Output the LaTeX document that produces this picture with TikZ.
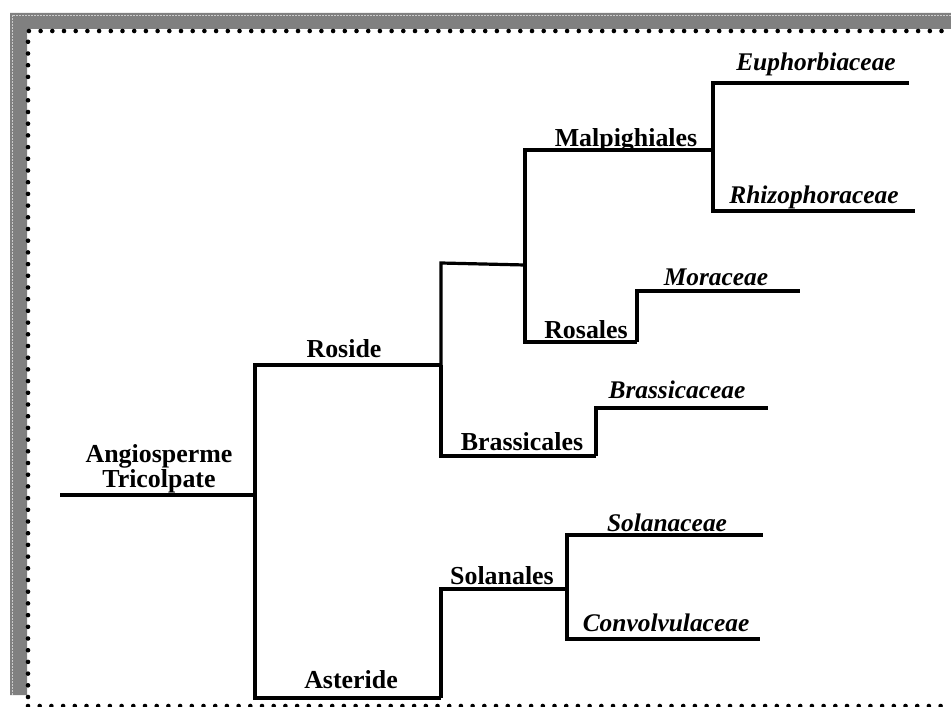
\documentclass[tikz,border=0pt]{standalone}
\usepackage{fontspec}
\setmainfont{Liberation Serif}
\begin{document}
\begin{tikzpicture}[x=1bp,y=-1bp,
  branch/.style={line width=3.2bp,line join=miter},
  order/.style={font=\fontsize{26}{28}\selectfont\bfseries,anchor=base,inner sep=0pt},
  family/.style={font=\fontsize{25.5}{28}\selectfont\bfseries\itshape,anchor=base,inner sep=0pt}]
\useasboundingbox (0,0) rectangle (951,707);
% frame shadow and dotted border
\fill[black!50] (10,13) -- (951,13) -- (951,29) -- (27,29) -- (27,695) -- (10,695) -- cycle;
\draw[white!80!black,line width=0.6bp,dash pattern=on 2bp off 1bp] (12,695) -- (12,15) -- (951,15);
\draw[line width=4.6bp,line cap=round,dash pattern=on 0bp off 11.7bp] (28,697) -- (28,31) -- (951,31);
\draw[line width=4.6bp,line cap=round,dash pattern=on 0bp off 11.7bp] (28,706) -- (951,706);
% clade coordinates
\coordinate (r0) at (60,495);
\coordinate (n0) at (255,495);
\coordinate (nR) at (441,365);
\coordinate (nA) at (441,698);
\coordinate (nRtop) at (441,263);
\coordinate (nMR) at (525,265);
\coordinate (nB) at (596,456);
\coordinate (nM) at (713,150);
\coordinate (nRo) at (637,342);
\coordinate (nS) at (567,589);
\coordinate (lEu) at (909,83);
\coordinate (lRh) at (915,211);
\coordinate (lMo) at (800,291);
\coordinate (lBr) at (768,408);
\coordinate (lSo) at (763,535);
\coordinate (lCo) at (760,639);
% branches
\draw[branch] (r0) -- (n0);
\draw[branch] (n0) |- (nR);
\draw[branch] (n0) |- (nA);
\draw[branch] (nR) -- (nRtop) -- (nMR);
\draw[branch] (nR) |- (nB);
\draw[branch] (nMR) |- (nM);
\draw[branch] (nMR) |- (nRo);
\draw[branch] (nM) |- (lEu);
\draw[branch] (nM) |- (lRh);
\draw[branch] (nRo) |- (lMo);
\draw[branch] (nB) |- (lBr);
\draw[branch] (nA) |- (nS);
\draw[branch] (nS) |- (lSo);
\draw[branch] (nS) |- (lCo);
% labels
\node[order] (tAng) at (159,462) {Angiosperme};
\node[order] (tTri) at (159,487) {Tricolpate};
\node[order] (tRos) at (344,357) {Roside};
\node[order] (tAst) at (351,688) {Asteride};
\node[order] (tMal) at (626,147) {Malpighiales};
\node[order] (tRsl) at (586,338) {Rosales};
\node[order] (tBrs) at (522,450) {Brassicales};
\node[order] (tSol) at (502,584) {Solanales};
\node[family] (tEu) at (816,71) {Euphorbiaceae};
\node[family] (tRh) at (814,203) {Rhizophoraceae};
\node[family] (tMo) at (716,285) {Moraceae};
\node[family] (tBr) at (677,398) {Brassicaceae};
\node[family] (tSo) at (667,531) {Solanaceae};
\node[family] (tCo) at (666,631) {Convolvulaceae};
\end{tikzpicture}
\end{document}
